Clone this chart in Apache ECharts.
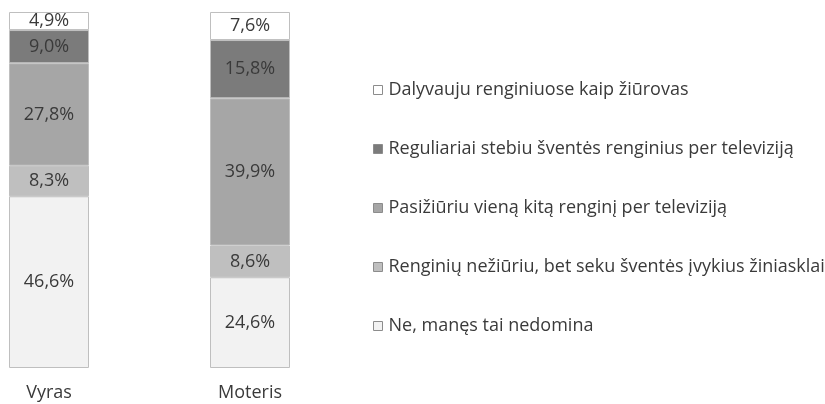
<!DOCTYPE html>
<html>
<head>
<meta charset="utf-8">
<script src="https://cdn.jsdelivr.net/npm/echarts@6/dist/echarts.min.js"></script>
<style>
  html, body { margin: 0; padding: 0; background: #fff; }
  #chart { width: 825px; height: 404px; }
</style>
</head>
<body>
<div id="chart"></div>
<script>
// kategorijos ir reikšmės (%), nuo apačios į viršų
var categories = ["Vyras", "Moteris"];
var seriesNames = [
  "Ne, manęs tai nedomina",
  "Renginių nežiūriu, bet seku šventės įvykius žiniasklai",
  "Pasižiūriu vieną kitą renginį per televiziją",
  "Reguliariai stebiu šventės renginius per televiziją",
  "Dalyvauju renginiuose kaip žiūrovas"
];
var neDomina = [46.6, 24.6];
var sekuZiniasklai = [8.3, 8.6];
var vienaKita = [27.8, 39.9];
var reguliariai = [9.0, 15.8];
var dalyvauju = [4.9, 7.6];
var colors = ["#f2f2f2", "#bfbfbf", "#a6a6a6", "#7b7b7b", "#ffffff"];

var allValues = [neDomina, sekuZiniasklai, vienaKita, reguliariai, dalyvauju];

// 100% stulpeliai: kiekvienas stulpelis normuojamas iki savo sumos
var totals = categories.map(function (c, i) {
  var s = 0;
  allValues.forEach(function (arr) { s += arr[i]; });
  return s;
});

var font = "'Open Sans', 'Liberation Sans', sans-serif";

var series = allValues.map(function (arr, k) {
  return {
    name: seriesNames[k],
    type: "bar",
    stack: "visi",
    barWidth: 80,
    data: arr.map(function (v, i) { return v / totals[i] * 100; }),
    itemStyle: { color: colors[k], borderColor: "#bfbfbf", borderWidth: 1 },
    label: {
      show: true,
      position: "inside",
      color: "#3a3a3a",
      fontFamily: font,
      fontSize: 18,
      formatter: function (p) {
        return arr[p.dataIndex].toFixed(1).replace(".", ",") + "%";
      }
    }
  };
});

var legendOrder = seriesNames.slice().reverse();

var myChart = echarts.init(document.getElementById("chart"));
myChart.setOption({
  animation: false,
  backgroundColor: "#fff",
  grid: { left: 49, width: 201, top: 12, bottom: 36 },
  xAxis: {
    type: "category",
    data: categories,
    boundaryGap: false,
    axisLine: { show: false },
    axisTick: { show: false },
    axisLabel: { color: "#3a3a3a", fontFamily: font, fontSize: 18, margin: 16 }
  },
  yAxis: {
    type: "value",
    min: 0,
    max: 100,
    show: false,
    splitLine: { show: false }
  },
  legend: {
    orient: "vertical",
    left: 368,
    top: 76,
    itemWidth: 9,
    itemHeight: 9,
    itemGap: 41,
    icon: "rect",
    data: legendOrder,
    itemStyle: { borderColor: "#8c8c8c", borderWidth: 1 },
    textStyle: { color: "#3a3a3a", fontFamily: font, fontSize: 18, padding: [0, 0, 0, 1] }
  },
  series: series
});
</script>
</body>
</html>
